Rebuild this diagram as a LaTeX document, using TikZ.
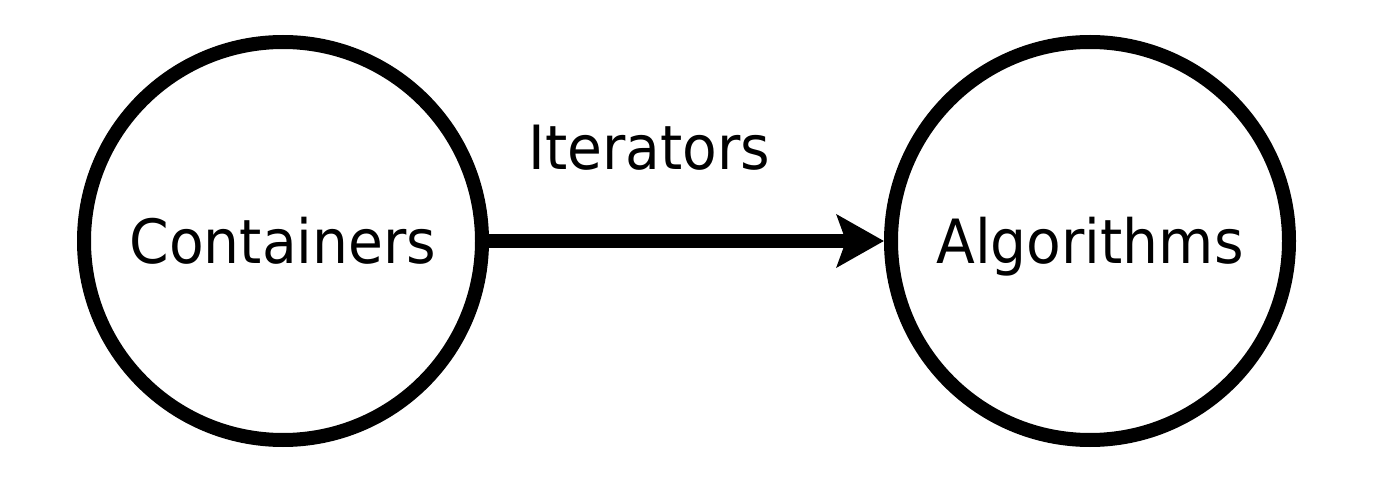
\documentclass[tikz,border=0pt]{standalone}
\usepackage{fontspec}
\newfontfamily\tahfont[FakeStretch=0.93]{DejaVu Sans}
\usetikzlibrary{arrows.meta}
\tikzset{
  circ/.style={circle, draw=black, line width=14pt, minimum size=398pt, inner sep=0pt,
    font=\tahfont\fontsize{61}{61}\selectfont, text height=44pt, text depth=0pt},
  conn/.style={line width=14pt, -{Stealth[length=47pt, width=52pt, inset=9pt]}},
  lbl/.style={font=\tahfont\fontsize{61}{61}\selectfont, anchor=base}
}
\begin{document}
\begin{tikzpicture}[x=1pt,y=1pt]
\useasboundingbox (0,0) rectangle (1398,480);
\node[circ] (cont) at (283,239) {Containers};
\node[circ] (alg) at (1090,239) {Algorithms};
\draw[conn] (cont) -- (alg) node[lbl, midway, xshift=-37pt, yshift=71pt] (it) {Iterators};
\end{tikzpicture}
\end{document}
